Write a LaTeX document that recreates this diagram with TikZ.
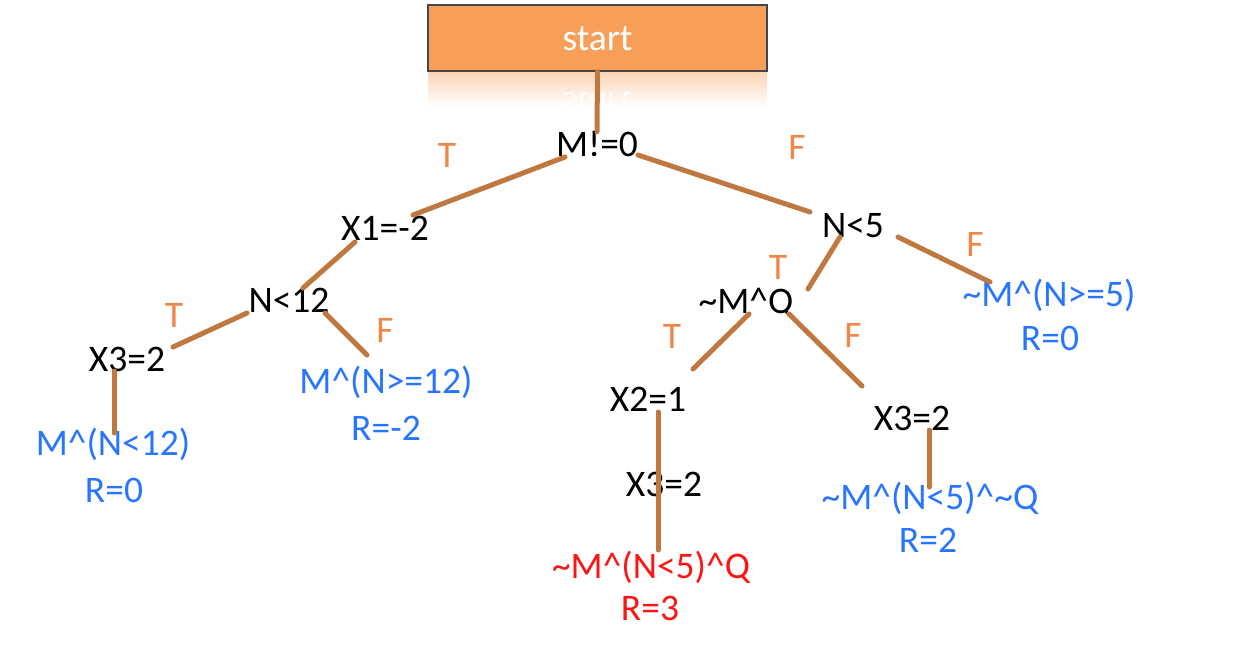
\documentclass[tikz,border=0pt]{standalone}
\usepackage{fontspec}
\setmainfont{Carlito}
\usetikzlibrary{calc}
\definecolor{boxorange}{RGB}{247,158,88}
\definecolor{boxborder}{RGB}{70,70,70}
\definecolor{edgebrown}{RGB}{190,120,64}
\definecolor{tforange}{RGB}{238,136,72}
\definecolor{leafblue}{RGB}{40,118,255}
\definecolor{leafred}{RGB}{255,20,20}
\tikzset{
  txt/.style={inner sep=0pt, text height=24pt, text depth=0pt, font=\fontsize{37.5}{44}\selectfont},
  cond/.style={txt, text=black},
  leaf/.style={txt, text=leafblue},
  redleaf/.style={txt, text=leafred},
  tf/.style={txt, text=tforange},
  edge/.style={draw=edgebrown, line width=5pt, line cap=round},
  startbox/.style={draw=boxborder, line width=1.5pt, fill=boxorange, minimum width=339pt, minimum height=66pt, inner sep=0pt, text=white, font=\fontsize{37.5}{44}\selectfont, text height=24pt, text depth=0pt}
}
\begin{document}
\begin{tikzpicture}[x=1pt,y=-1pt]
\useasboundingbox (0,0) rectangle (1236,645);
% reflection under start box
\shade[top color=boxorange!45!white, bottom color=white] (428,71) rectangle (767,107);
\begin{scope}
\clip (428,71) rectangle (767,107);
\node[startbox, draw=none, fill=none, yscale=-1, text=white, opacity=0.8] (startrefl) at (597.5,104) {start};
\end{scope}
\node[startbox] (start) at (597.5,38) {start};

% condition nodes
\node[cond] (m0) at (597,144) {M!=0};
\node[cond] (x1) at (385,228) {X1=-2};
\node[cond] (n12) at (289,300) {N<12};
\node[cond] (x3a) at (127,359) {X3=2};
\node[cond] (n5) at (853,225) {N<5};
\node[cond] (mq) at (746,301) {\char`\~M\char`\^Q};
\node[cond] (x2) at (648,399) {X2=1};
\node[cond] (x3b) at (664,484) {X3=2};
\node[cond] (x3c) at (912,418) {X3=2};

% leaves
\node[leaf] (la) at (113,443) {M\char`\^(N<12)};
\node[leaf] (ra) at (114,490) {R=0};
\node[leaf] (lb) at (386,381) {M\char`\^(N>=12)};
\node[leaf] (rb) at (386,428) {R=-2};
\node[leaf] (lc) at (1049,294) {\char`\~M\char`\^(N>=5)};
\node[leaf] (rc) at (1050,338) {R=0};
\node[redleaf] (ld) at (651,566) {\char`\~M\char`\^(N<5)\char`\^Q};
\node[redleaf] (rd) at (650,608) {R=3};
\node[leaf] (le) at (930,497) {\char`\~M\char`\^(N<5)\char`\^\char`\~Q};
\node[leaf] (re) at (928,540) {R=2};

% T / F labels
\node[tf] (t1) at (447,155) {T};
\node[tf] (f1) at (797,147) {F};
\node[tf] (t2) at (174,315) {T};
\node[tf] (f2) at (385,330) {F};
\node[tf] (t3) at (778,267) {T};
\node[tf] (f3) at (975,244) {F};
\node[tf] (t4) at (672,336) {T};
\node[tf] (f4) at (853,335) {F};

% edges
\draw[edge] (start.south) -- (m0.north);
\draw[edge] ($(m0)+(-32,13)$) -- ($(x1)+(28,-13)$);
\draw[edge] ($(m0)+(41,11)$) -- ($(n5)+(-43,-13)$);
\draw[edge] ($(x1)+(-30,14)$) -- ($(n12)+(14,-12)$);
\draw[edge] ($(n12)+(-42,13)$) -- ($(x3a)+(46,-12)$);
\draw[edge] ($(n12)+(36,13)$) -- ($(lb)+(-19,-26)$);
\draw[edge] ($(x3a)+(-13,12)$) -- ($(la)+(1,-10)$);
\draw[edge] ($(n5)+(-13,12)$) -- ($(mq)+(62,-12)$);
\draw[edge] ($(n5)+(45,12)$) -- ($(lc)+(-59,-12)$);
\draw[edge] ($(mq)+(3,13)$) -- ($(x2)+(45,-30)$);
\draw[edge] ($(mq)+(43,13)$) -- ($(x3c)+(-50,-32)$);
\draw[edge] ($(x2)+(10,13)$) -- ($(ld)+(7,-16)$);
\draw[edge] ($(x3c)+(17,12)$) -- ($(le)+(-1,-10)$);
\end{tikzpicture}
\end{document}
